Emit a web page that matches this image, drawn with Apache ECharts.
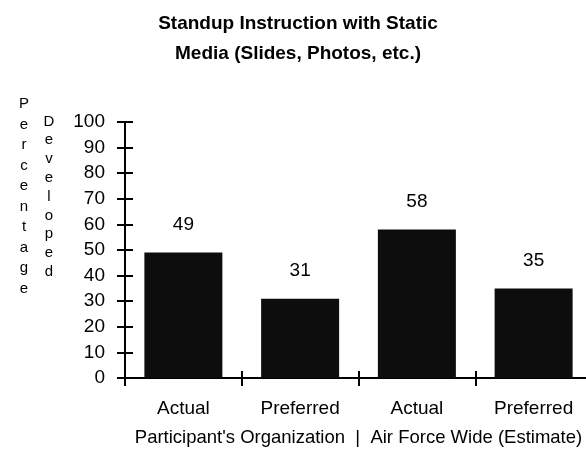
<!DOCTYPE html>
<html><head><meta charset="utf-8">
<script src="https://cdn.jsdelivr.net/npm/echarts@6/dist/echarts.min.js"></script>
<style>html,body{margin:0;padding:0;background:#fff}#c{width:586px;height:459px}</style>
</head><body><div id="c"></div>
<script>
var titleLines = ['Standup Instruction with Static', 'Media (Slides, Photos, etc.)'];
var categories = ['Actual', 'Preferred', 'Actual', 'Preferred'];
var values = [49, 31, 58, 35];
var yTitle1 = 'Percentage';
var yTitle2 = 'Developed';
var xTitle = "Participant's Organization  |  Air Force Wide (Estimate)";
var F = '"Liberation Sans", Arial, Helvetica, sans-serif';

var chart = echarts.init(document.getElementById('c'), null, {renderer: 'canvas'});
chart.setOption({
  animation: false,
  backgroundColor: '#fff',
  title: [
    {text: titleLines.join('\n'), left: 293, top: 4, textAlign: 'center',
     textStyle: {fontFamily: F, fontSize: 19, fontWeight: 'bold', color: '#000', lineHeight: 30}},
    {text: yTitle1.split('').join('\n'), left: 19, top: 89, textAlign: 'center',
     textStyle: {fontFamily: F, fontSize: 15, fontWeight: 'normal', color: '#000', lineHeight: 20.5}},
    {text: yTitle2.split('').join('\n'), left: 44, top: 107, textAlign: 'center',
     textStyle: {fontFamily: F, fontSize: 15, fontWeight: 'normal', color: '#000', lineHeight: 18.8}}
  ],
  grid: {left: 125, width: 467, top: 122, bottom: 81, containLabel: false, outerBoundsMode: 'none'},
  xAxis: [
    {type: 'category', data: categories, boundaryGap: true,
     axisLine: {show: true, lineStyle: {color: '#000', width: 2}},
     axisTick: {show: true, length: 8, alignWithLabel: false, lineStyle: {color: '#000', width: 2}},
     axisLabel: {fontFamily: F, fontSize: 19, color: '#000', margin: 21},
     name: xTitle, nameLocation: 'middle', nameGap: 50,
     nameTextStyle: {fontFamily: F, fontSize: 18.5, color: '#000'}},
    {type: 'category', data: categories, boundaryGap: true, position: 'bottom',
     axisLine: {show: false},
     axisTick: {show: true, inside: true, length: 7, lineStyle: {color: '#000', width: 2}},
     axisLabel: {show: false}}
  ],
  yAxis: [
    {type: 'value', min: 0, max: 100, interval: 10,
     axisLine: {show: true, lineStyle: {color: '#000', width: 2}},
     axisTick: {show: true, length: 8, lineStyle: {color: '#000', width: 2}},
     axisLabel: {fontFamily: F, fontSize: 19, color: '#000', margin: 20},
     splitLine: {show: false}},
    {type: 'value', min: 0, max: 100, interval: 10, position: 'left',
     axisLine: {show: false},
     axisTick: {show: true, inside: true, length: 8, lineStyle: {color: '#000', width: 2}},
     axisLabel: {show: false}, splitLine: {show: false}}
  ],
  series: [{
    type: 'bar', data: values, barWidth: 78, xAxisIndex: 0, yAxisIndex: 0,
    itemStyle: {color: '#0d0d0d'},
    label: {show: true, position: 'top', distance: 18, fontFamily: F, fontSize: 19, color: '#000'}
  }]
});
</script></body></html>
